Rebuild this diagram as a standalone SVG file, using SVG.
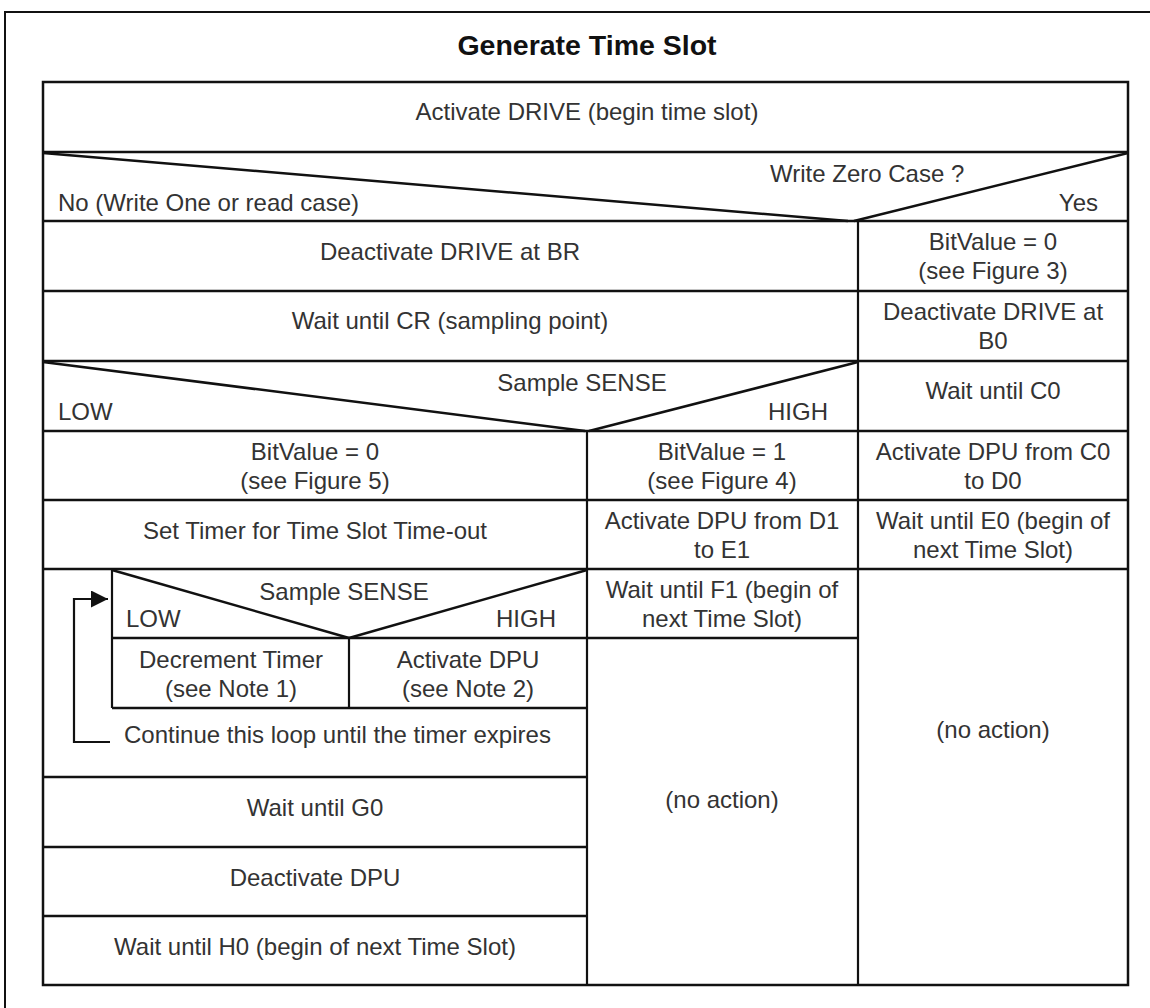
<svg xmlns="http://www.w3.org/2000/svg" width="1150" height="1008" viewBox="0 0 1150 1008">
<style>
.ln{stroke:#111;stroke-width:2.5;fill:none}
.v{stroke-width:2.2}
.t{font-family:"Liberation Sans",Arial,sans-serif;font-size:24px;fill:#333;text-anchor:middle}
.l{text-anchor:start}
.r{text-anchor:end}
.title{font-family:"Liberation Sans",Arial,sans-serif;font-size:28.5px;font-weight:bold;fill:#111;text-anchor:middle}
</style>
<defs>
<marker id="ah" markerWidth="17" markerHeight="17" refX="17" refY="8.5" orient="auto" markerUnits="userSpaceOnUse">
<path d="M0,0 L17,8.5 L0,17 Z" fill="#111"/>
</marker>
</defs>
<rect x="0" y="0" width="1150" height="1008" fill="#fff"/>
<rect x="5" y="12" width="1160" height="1010" fill="none" stroke="#111" stroke-width="2"/>
<text class="title" x="587" y="55">Generate Time Slot</text>

<g id="frame">
<rect class="ln" x="43" y="82" width="1085" height="903"/>
</g>

<g id="connectors">
<line class="ln" x1="43" y1="152" x2="1128" y2="152"/>
<line class="ln" x1="43" y1="153" x2="848" y2="221"/>
<line class="ln" x1="1128" y1="153" x2="854" y2="221"/>
<line class="ln" x1="43" y1="221" x2="1128" y2="221"/>
<line class="ln v" x1="858" y1="221" x2="858" y2="985"/>
<line class="ln" x1="43" y1="291" x2="1128" y2="291"/>
<line class="ln" x1="43" y1="361" x2="1128" y2="361"/>
<line class="ln" x1="43" y1="362" x2="585" y2="431"/>
<line class="ln" x1="858" y1="362" x2="589" y2="431"/>
<line class="ln" x1="43" y1="431" x2="1128" y2="431"/>
<line class="ln v" x1="587" y1="431" x2="587" y2="985"/>
<line class="ln" x1="43" y1="500" x2="1128" y2="500"/>
<line class="ln" x1="43" y1="569" x2="1128" y2="569"/>
<line class="ln" x1="587" y1="638" x2="858" y2="638"/>
<line class="ln v" x1="112" y1="569" x2="112" y2="708"/>
<line class="ln" x1="112" y1="570" x2="349" y2="638"/>
<line class="ln" x1="587" y1="570" x2="349" y2="638"/>
<line class="ln" x1="112" y1="638" x2="587" y2="638"/>
<line class="ln v" x1="349" y1="638" x2="349" y2="708"/>
<line class="ln" x1="112" y1="708" x2="587" y2="708"/>
<line class="ln" x1="43" y1="777" x2="587" y2="777"/>
<line class="ln" x1="43" y1="847" x2="587" y2="847"/>
<line class="ln" x1="43" y1="916" x2="587" y2="916"/>
<polyline points="110,742 74,742 74,599 108,599" fill="none" stroke="#111" stroke-width="2.2" marker-end="url(#ah)"/>
</g>

<g id="n-activate-drive"><text class="t" x="587" y="120">Activate DRIVE (begin time slot)</text></g>
<g id="n-write-zero">
<text class="t l" x="770" y="182">Write Zero Case ?</text>
<text class="t l" x="58" y="211">No (Write One or read case)</text>
<text class="t r" x="1098" y="211">Yes</text>
</g>
<g id="n-deact-br"><text class="t" x="450" y="260">Deactivate DRIVE at BR</text></g>
<g id="n-bv0-fig3"><text class="t" x="993" y="250">BitValue = 0</text><text class="t" x="993" y="279">(see Figure 3)</text></g>
<g id="n-wait-cr"><text class="t" x="450" y="329">Wait until CR (sampling point)</text></g>
<g id="n-deact-b0"><text class="t" x="993" y="320">Deactivate DRIVE at</text><text class="t" x="993" y="349">B0</text></g>
<g id="n-sample1">
<text class="t" x="582" y="391">Sample SENSE</text>
<text class="t l" x="58" y="420">LOW</text>
<text class="t r" x="828" y="420">HIGH</text>
</g>
<g id="n-wait-c0"><text class="t" x="993" y="399">Wait until C0</text></g>
<g id="n-bv0-fig5"><text class="t" x="315" y="460">BitValue = 0</text><text class="t" x="315" y="489">(see Figure 5)</text></g>
<g id="n-bv1-fig4"><text class="t" x="722" y="460">BitValue = 1</text><text class="t" x="722" y="489">(see Figure 4)</text></g>
<g id="n-dpu-c0"><text class="t" x="993" y="460">Activate DPU from C0</text><text class="t" x="993" y="489">to D0</text></g>
<g id="n-set-timer"><text class="t" x="315" y="539">Set Timer for Time Slot Time-out</text></g>
<g id="n-dpu-d1"><text class="t" x="722" y="529">Activate DPU from D1</text><text class="t" x="722" y="558">to E1</text></g>
<g id="n-wait-e0"><text class="t" x="993" y="529">Wait until E0 (begin of</text><text class="t" x="993" y="558">next Time Slot)</text></g>
<g id="n-sample2">
<text class="t" x="344" y="600">Sample SENSE</text>
<text class="t l" x="126" y="627">LOW</text>
<text class="t r" x="556" y="627">HIGH</text>
</g>
<g id="n-wait-f1"><text class="t" x="722" y="598">Wait until F1 (begin of</text><text class="t" x="722" y="627">next Time Slot)</text></g>
<g id="n-decrement"><text class="t" x="231" y="668">Decrement Timer</text><text class="t" x="231" y="697">(see Note 1)</text></g>
<g id="n-act-dpu"><text class="t" x="468" y="668">Activate DPU</text><text class="t" x="468" y="697">(see Note 2)</text></g>
<g id="n-loop"><text class="t l" x="124" y="743">Continue this loop until the timer expires</text></g>
<g id="n-noaction-right"><text class="t" x="993" y="738">(no action)</text></g>
<g id="n-noaction-mid"><text class="t" x="722" y="808">(no action)</text></g>
<g id="n-wait-g0"><text class="t" x="315" y="816">Wait until G0</text></g>
<g id="n-deact-dpu"><text class="t" x="315" y="886">Deactivate DPU</text></g>
<g id="n-wait-h0"><text class="t" x="315" y="955">Wait until H0 (begin of next Time Slot)</text></g>
</svg>
